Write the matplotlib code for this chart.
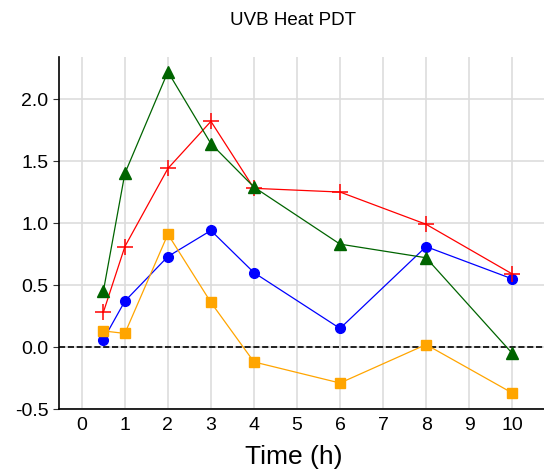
import matplotlib
matplotlib.use("Agg")
import matplotlib.pyplot as plt

plt.rcParams['font.family'] = ['Liberation Sans', 'DejaVu Sans']

time = [0.5, 1, 2, 3, 4, 6, 8, 10]
green = [0.45, 1.40, 2.22, 1.64, 1.29, 0.83, 0.72, -0.05]
red = [0.28, 0.81, 1.44, 1.82, 1.28, 1.25, 0.99, 0.59]
blue = [0.06, 0.37, 0.73, 0.94, 0.60, 0.15, 0.81, 0.55]
orange = [0.13, 0.11, 0.91, 0.36, -0.12, -0.29, 0.02, -0.37]
xticks = list(range(0, 11))
yticks = [-0.5, 0.0, 0.5, 1.0, 1.5, 2.0]

fig = plt.figure(figsize=(5.44, 4.74), dpi=100)
ax = fig.add_axes([0.1085, 0.137, 0.8915, 0.743])

ax.plot(time, blue, color='blue', marker='o', markersize=7, linewidth=0.9, zorder=3)
ax.plot(time, orange, color='orange', marker='s', markersize=7, linewidth=0.9, zorder=3)
ax.plot(time, red, color='red', marker='+', markersize=11, markeredgewidth=1.1, linewidth=0.9, zorder=3)
ax.plot(time, green, color='darkgreen', marker='^', markersize=8, linewidth=0.9, zorder=3)
ax.axhline(0, color='black', linestyle='--', linewidth=1.2, zorder=2)

ax.set_xlim(-0.53, 10.74)
ax.set_ylim(-0.5, 2.34)
ax.set_xticks(xticks)
ax.set_yticks(yticks)
ax.set_yticklabels([f"{v:.1f}" for v in yticks])
ax.grid(True, color='#dddddd', linewidth=1.2, zorder=0)
ax.set_axisbelow(True)
for s in ['top', 'right']:
    ax.spines[s].set_visible(False)
ax.spines['left'].set_linewidth(1.2)
ax.spines['bottom'].set_linewidth(1.2)
ax.tick_params(axis='both', labelsize=14, length=4, color='#333333')
ax.tick_params(axis='x', length=0, pad=6)
ax.set_xlabel('Time (h)', fontsize=19)
ax.xaxis.set_label_coords((294 - 59) / (544 - 59), -0.102)
fig.text(293 / 544, 0.957, 'UVB Heat PDT', ha='center', va='center', fontsize=13.5)

fig.savefig('out.png', dpi=100)
